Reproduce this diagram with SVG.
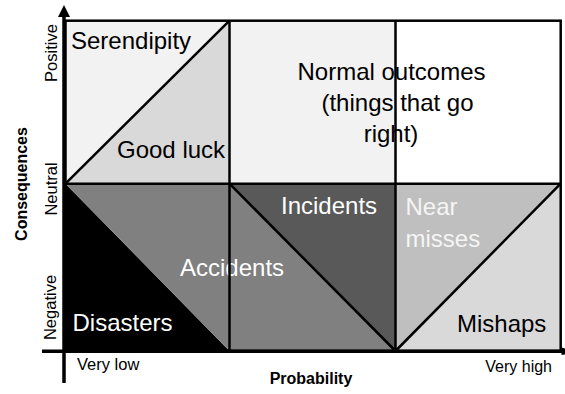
<svg xmlns="http://www.w3.org/2000/svg" width="565" height="394" viewBox="0 0 565 394">
<style>
.lbl{font-family:"Liberation Sans",Arial,sans-serif;font-size:24px;}
.dark{fill:#000;}
.light{fill:#fff;}
.ax{font-family:"Liberation Sans",Arial,sans-serif;font-size:16.5px;fill:#000;}
.axb{font-family:"Liberation Sans",Arial,sans-serif;font-size:16px;font-weight:bold;fill:#000;}
.grid{stroke:#000;stroke-width:2.5;fill:none;}
</style>
<rect width="565" height="394" fill="#fff"/>
<g id="serendipity">
<polygon points="65.5,20.7 229.5,20.7 65.5,183.7" fill="#f2f2f2"/>
<text class="lbl dark" x="71" y="48.5">Serendipity</text>
</g>
<g id="good-luck">
<polygon points="229.5,20.7 229.5,183.7 65.5,183.7" fill="#d9d9d9"/>
<text class="lbl dark" x="117" y="158">Good luck</text>
</g>
<g id="normal-outcomes">
<rect x="229.5" y="20.7" width="166" height="163" fill="#f2f2f2"/>
<rect x="395.5" y="20.7" width="165.2" height="163" fill="#fff"/>
<text class="lbl dark" text-anchor="middle"><tspan x="391.5" y="80">Normal outcomes</tspan><tspan x="397.5" y="111">(things that go</tspan><tspan x="391" y="142">right)</tspan></text>
</g>
<g id="disasters">
<polygon points="65.5,183.7 229.5,351 65.5,351" fill="#000"/>
<text class="lbl light" x="72.5" y="331">Disasters</text>
</g>
<g id="accidents">
<polygon points="65.5,183.7 229.5,183.7 395.5,351 229.5,351" fill="#808080"/>
<text class="lbl light" x="180" y="276">Accidents</text>
</g>
<g id="incidents">
<polygon points="229.5,183.7 395.5,183.7 395.5,351" fill="#595959"/>
<text class="lbl light" x="281" y="214">Incidents</text>
</g>
<g id="near-misses">
<polygon points="395.5,183.7 560.7,183.7 395.5,351" fill="#bfbfbf"/>
<text class="lbl" fill="#f5f5f5"><tspan x="405.5" y="215">Near</tspan><tspan x="405.5" y="246.5">misses</tspan></text>
</g>
<g id="mishaps">
<polygon points="560.7,183.7 560.7,351 395.5,351" fill="#d9d9d9"/>
<text class="lbl dark" x="457" y="331.5">Mishaps</text>
</g>
<g id="grid">
<rect class="grid" x="65.5" y="20.7" width="495.2" height="330.3"/>
<line class="grid" x1="229.5" y1="20.7" x2="229.5" y2="351"/>
<line class="grid" x1="395.5" y1="20.7" x2="395.5" y2="351"/>
<line class="grid" x1="65.5" y1="183.7" x2="560.7" y2="183.7"/>
</g>
<g id="connectors">
<line class="grid" x1="65.5" y1="183.7" x2="229.5" y2="20.7"/>
<line class="grid" x1="229.5" y1="183.7" x2="395.5" y2="351"/>
<line class="grid" x1="395.5" y1="351" x2="560.7" y2="183.7"/>
<line x1="64" y1="15" x2="64" y2="383" stroke="#000" stroke-width="3.5"/>
<polygon points="64,5 70,17 58,17" fill="#000"/>
<line x1="42" y1="351.3" x2="562" y2="351.3" stroke="#000" stroke-width="3.5"/>
<polygon points="561.5,347.5 565,348.5 565,354.5 561.5,355" fill="#000"/>
</g>
<g id="axis-labels">
<text class="ax" text-anchor="middle" transform="translate(57,53) rotate(-90)">Positive</text>
<text class="ax" text-anchor="middle" transform="translate(57,189) rotate(-90)">Neutral</text>
<text class="ax" text-anchor="middle" transform="translate(56,307.5) rotate(-90)">Negative</text>
<text class="axb" text-anchor="middle" transform="translate(27,184) rotate(-90)">Consequences</text>
<text class="ax" x="77" y="370">Very low</text>
<text class="ax" text-anchor="end" x="552" y="371.5" style="font-size:16px">Very high</text>
<text class="axb" text-anchor="middle" x="311" y="383.5">Probability</text>
</g>
</svg>
